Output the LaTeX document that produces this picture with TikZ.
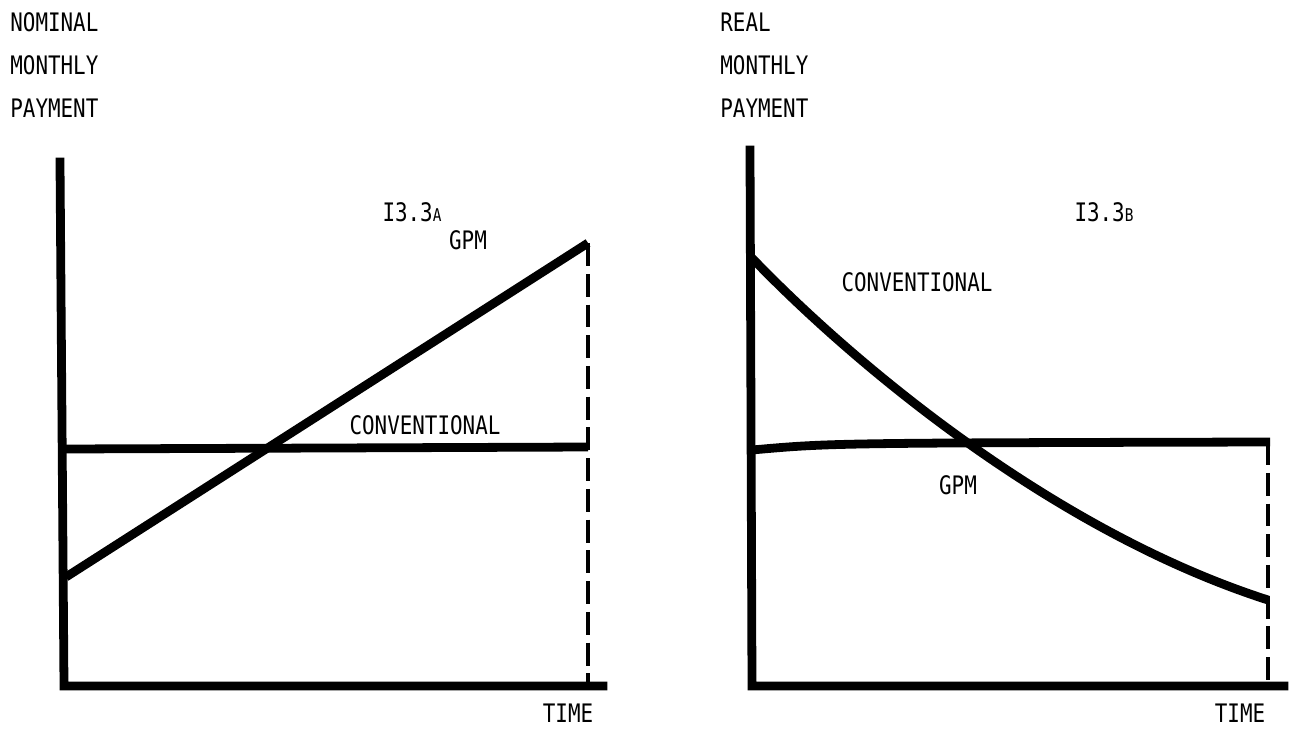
\documentclass[tikz,border=0pt]{standalone}
\usepackage{fontspec}
\setmainfont[FakeStretch=0.82]{DejaVu Sans Mono}
\begin{document}
\begin{tikzpicture}[x=0.02cm, y=-0.02cm,
	axis/.style = {draw, line width=5pt, line cap=rect},
	curve/.style = {draw, line width=5pt},
	guide/.style = {draw, line width=2pt, dash pattern=on 13pt off 4.5pt},
	lbl/.style = {inner sep=0pt, font=\fontsize{14.5}{16}\selectfont},
	tag/.style = {lbl, anchor=west}]
	\useasboundingbox (0,0) rectangle (1289,728);
	% left panel: nominal payment
	\coordinate (lo) at (64,686);
	\coordinate (ltop) at (60,162);
	\coordinate (lend) at (603,686);
	\coordinate (lfoot) at (588,686);
	\coordinate (lgpm0) at (66,577);
	\coordinate (lgpm1) at (588,243);
	\coordinate (lcon0) at (64,449);
	\coordinate (lcon1) at (588,447);
	\draw[axis] (ltop) -- (lo) -- (lend);
	\draw[curve] (lgpm0) -- (lgpm1);
	\draw[curve] (lcon0) -- (lcon1);
	\draw[guide] (lgpm1) -- (lfoot);
	\node[tag] (n1) at (10,22) {NOMINAL};
	\node[tag] (n2) at (10,65) {MONTHLY};
	\node[tag] (n3) at (10,108) {PAYMENT};
	\node[lbl] (fa) at (412,212) {I3.3{\fontsize{10}{11}\selectfont A}};
	\node[lbl] (gl) at (468,240) {GPM};
	\node[lbl] (cl) at (425,425) {CONVENTIONAL};
	\node[lbl] (tl) at (568,713) {TIME};
	% right panel: real payment
	\coordinate (ro) at (752,686);
	\coordinate (rtop) at (750,150);
	\coordinate (rend) at (1284,686);
	\coordinate (rfoot) at (1268,686);
	\coordinate (rcon0) at (752,258);
	\coordinate (rcon1) at (1268,600);
	\coordinate (rgpm0) at (752,450);
	\coordinate (rgpm1) at (1270,442);
	\draw[axis] (rtop) -- (ro) -- (rend);
	\draw[curve] (rcon0) .. controls (850,360) and (1050,530) .. (rcon1);
	\draw[curve] (rgpm0) .. controls (830,443) .. (rgpm1);
	\draw[guide] (1268,442) -- (rfoot);
	\node[tag] (r1) at (720,22) {REAL};
	\node[tag] (r2) at (720,65) {MONTHLY};
	\node[tag] (r3) at (720,108) {PAYMENT};
	\node[lbl] (fb) at (1104,212) {I3.3{\fontsize{10}{11}\selectfont B}};
	\node[lbl] (cr) at (917,282) {CONVENTIONAL};
	\node[lbl] (gr) at (958,485) {GPM};
	\node[lbl] (tr) at (1240,713) {TIME};
\end{tikzpicture}
\end{document}
